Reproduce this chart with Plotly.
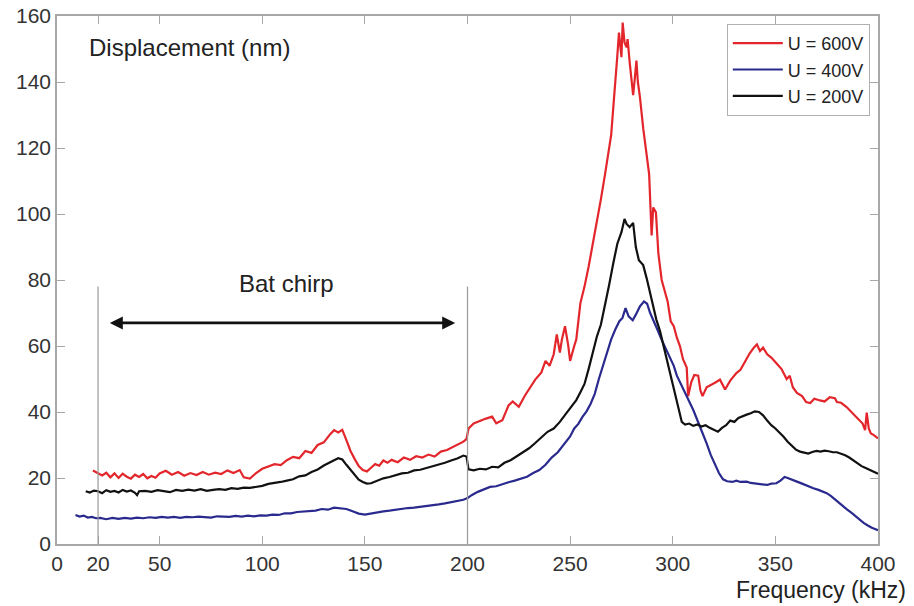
import plotly.graph_objects as go

# ---------------- data ----------------
red_f = [17.5, 20, 22, 24, 26, 28, 30, 32, 34, 36, 38, 40, 42, 44, 46, 48, 50, 53, 56, 59, 62, 65, 68, 71, 74, 77, 80,
         83, 86, 89, 91, 94, 97, 100, 103, 106, 109, 112, 115, 118, 121, 124, 127, 130, 133, 135, 137, 139, 141, 143,
         145, 147, 149, 151, 153, 155, 157, 159, 161, 163, 166, 169, 172, 175, 178, 181, 184, 187, 190, 193, 196, 198,
         199.5, 200.5, 203, 206, 209, 212, 214, 217, 220, 222, 225, 228, 231, 233, 236, 238, 240, 242, 243.5, 245, 246,
         247.5, 249, 250, 252, 253, 255, 257, 259, 261, 263, 265, 267, 268.5, 270, 271, 272, 273, 273.8, 274.5, 275,
         275.6, 276.5, 277.5, 278, 279, 280.7, 281.5, 282.3, 283, 284, 285.6, 287, 288.5, 289.7, 290.5, 291.8, 293,
         294.6, 296, 297.5, 299, 300.5, 302, 303.5, 305, 306.8, 307.5, 309, 310.5, 312.4, 313.5, 314.5, 316.5, 319, 321,
         323, 325.5, 328, 331, 333, 335, 337.5, 339.5, 341, 342.5, 344, 346, 348, 350.5, 353, 355.5, 357, 358.5, 360.5,
         363, 365, 367, 369, 371.7, 374, 376.5, 379, 380, 382, 384.7, 387, 389, 391.2, 392.5, 393.7, 394.5, 395.5,
         396.5, 398, 400]
red_v = [22.3, 21.5, 20.8, 21.6, 20.2, 21.4, 20.0, 21.3, 20.4, 19.8, 21.0, 20.3, 21.2, 19.9, 20.6, 20.1, 21.4, 22.2,
         21.0, 21.8, 20.7, 21.5, 20.9, 21.8, 21.0, 21.6, 21.2, 22.3, 21.5, 22.4, 20.2, 19.8, 21.5, 22.8, 23.4, 24.2,
         23.9, 25.4, 26.4, 26.0, 28.2, 27.6, 30.0, 30.8, 33.2, 34.5, 33.8, 34.6, 31.5, 28.2, 25.8, 23.6, 22.4, 22.0,
         23.1, 24.2, 23.7, 25.3, 24.6, 25.5, 24.8, 26.2, 25.5, 26.6, 26.2, 27.1, 26.5, 28.0, 28.5, 29.4, 30.2, 31.0,
         31.8, 35.0, 36.5, 37.3, 38.0, 38.6, 36.6, 37.5, 42.0, 43.2, 41.6, 45.0, 48.0, 49.8, 52.0, 55.5, 54.0, 57.5,
         63.5, 58.0, 62.0, 66.0, 60.5, 55.5, 60.0, 62.0, 73.0, 78.0, 84.0, 90.5, 97.0, 104.5, 112.0, 118.5, 124.0,
         132.0, 139.0, 148.0, 155.0, 150.0, 147.5, 158.0, 152.0, 150.5, 153.0, 146.0, 136.0, 141.0, 146.5, 140.0,
         135.5, 126.0, 119.0, 112.0, 93.5, 102.0, 100.5, 88.0, 80.0, 77.0, 73.5, 67.5, 66.0, 62.5, 60.0, 56.0, 53.5,
         44.8, 49.0, 51.2, 51.0, 46.5, 44.8, 47.5, 48.2, 49.0, 49.8, 46.8, 49.5, 51.8, 52.8, 55.0, 57.8, 59.5, 60.5,
         58.5, 59.5, 57.5, 56.5, 54.8, 53.0, 50.0, 51.0, 47.5, 45.8, 44.8, 43.0, 42.7, 44.0, 43.5, 43.2, 44.5, 44.2,
         43.0, 42.8, 41.5, 40.0, 39.0, 37.5, 36.5, 34.5, 39.8, 35.0, 33.5, 33.0, 32.0]

blue_f = [9, 11, 13, 15, 17, 19, 21, 24, 27, 30, 33, 36, 39, 42, 45, 48, 51, 54, 57, 60, 63, 66, 69, 72, 75, 78, 81, 84,
          87, 90, 93, 96, 99, 102, 105, 108, 111, 114, 117, 120, 123, 126, 129, 132, 135, 138, 141, 144, 147, 150, 153,
          156, 159, 162, 165, 168, 171, 174, 177, 180, 183, 186, 189, 192, 195, 198, 200, 202, 205, 208, 211, 214, 217,
          220, 223, 226, 229, 232, 235, 238, 241, 244, 247, 250, 252, 254, 256, 258, 260, 262, 264, 266, 268, 270, 272,
          274, 275.5, 277, 278.5, 280.5, 282, 284, 286, 287.5, 289, 290.5, 292.5, 294.5, 296.5, 298.5, 300.5, 302, 304,
          306, 308, 310, 312, 314, 316.5, 318.5, 320.5, 322.5, 324.5, 326.5, 329, 331, 333, 336, 338, 340, 342, 344,
          346, 348, 350.5, 352.5, 354.5, 356, 358, 360.5, 363, 365.5, 368.5, 371, 373, 375, 377, 379, 381, 383, 385,
          387, 389, 391, 393, 395, 397, 400]
blue_v = [8.8, 8.3, 8.6, 8.0, 8.2, 7.8, 7.9, 7.5, 7.9, 7.6, 7.9, 7.7, 8.0, 7.8, 8.1, 7.9, 8.2, 8.0, 8.2, 7.9, 8.2, 8.1,
          8.3, 8.2, 8.0, 8.4, 8.3, 8.2, 8.5, 8.3, 8.6, 8.4, 8.7, 8.6, 8.9, 8.8, 9.3, 9.3, 9.7, 9.8, 10.0, 10.1, 10.6,
          10.4, 11.0, 10.9, 10.6, 9.9, 9.2, 8.9, 9.3, 9.5, 9.9, 10.1, 10.4, 10.7, 10.9, 11.0, 11.2, 11.5, 11.6, 12.0,
          12.3, 12.7, 13.0, 13.4, 13.9, 14.8, 15.8, 16.6, 17.3, 17.5, 18.2, 18.7, 19.2, 19.8, 20.4, 21.5, 22.4, 24.0,
          26.2, 27.8, 30.2, 32.6, 35.0, 36.4, 38.5, 40.2, 42.5, 45.5, 50.0, 54.0, 58.0, 62.0, 65.0, 67.5, 68.5, 71.5,
          69.0, 67.8, 69.5, 72.0, 73.5, 72.8, 70.0, 68.0, 65.0, 62.0, 59.5, 56.5, 54.0, 51.0, 48.5, 45.5, 43.0, 40.6,
          37.5, 34.5, 30.5, 27.0, 24.0, 21.5, 19.6, 19.0, 18.8, 19.2, 18.8, 18.9, 18.5, 18.4, 18.1, 18.0, 17.9, 18.3,
          18.4, 19.2, 20.3, 20.0, 19.4, 18.9, 18.3, 17.6, 16.9, 16.4, 16.0, 15.4, 14.6, 13.5, 12.4, 11.3, 10.4, 9.5,
          8.5, 7.3, 6.4, 5.6, 4.9, 4.2]

black_f = [14, 16, 18, 20, 22, 24, 26, 28, 30, 32, 34, 36, 38, 39, 40, 43, 46, 49, 52, 55, 58, 61, 64, 67, 70, 73, 76,
           79, 82, 85, 88, 91, 94, 97, 100, 103, 106, 109, 112, 115, 118, 121, 124, 127, 130, 133, 135, 137, 139, 141,
           143, 145, 147, 149, 151, 153, 156, 159, 162, 165, 168, 171, 174, 177, 180, 183, 186, 189, 192, 195, 198,
           199.5, 200.5, 203, 206, 209, 212, 215, 218, 221, 224, 227, 230, 233, 236, 239, 242, 245, 248, 251, 253, 255,
           257, 259, 261, 263, 265, 267, 269, 271, 273, 275, 276.5, 277.5, 279, 280.7, 282, 283.5, 285.6, 287.3, 289,
           290.4, 292, 293.8, 295.5, 297, 298.6, 300.5, 302.5, 304.4, 306, 308, 310, 312, 314, 316, 318, 320, 322, 324,
           326, 328, 330, 332, 334, 336, 338, 340, 342, 344, 346, 348, 350, 352, 354, 356, 358, 360, 362, 364, 366, 368,
           370, 372, 374, 376, 378, 380, 382, 384, 386, 388, 390, 392, 394, 396, 398, 400]
black_v = [16.0, 15.6, 16.2, 16.0, 15.4, 16.3, 15.8, 16.1, 15.6, 16.4, 15.9, 16.2, 15.5, 14.8, 16.0, 16.1, 15.8, 16.3,
           16.0, 15.7, 16.4, 16.1, 16.5, 16.2, 16.6, 16.1, 16.4, 16.6, 16.4, 16.9, 16.7, 17.1, 17.0, 17.3, 17.6, 18.2,
           18.4, 18.8, 19.2, 19.6, 20.5, 20.8, 21.8, 22.6, 23.8, 24.9, 25.4, 26.0, 25.6, 24.0, 22.5, 21.0, 19.5, 18.8,
           18.3, 18.4, 19.2, 19.9, 20.3, 20.9, 21.4, 21.6, 22.3, 22.5, 23.0, 23.6, 24.2, 24.6, 25.3, 25.9, 26.8, 26.5,
           22.6, 22.3, 22.8, 22.6, 23.4, 23.2, 24.6, 25.4, 26.6, 27.8, 29.0, 30.6, 32.3, 34.0, 35.0, 37.0, 39.5, 42.0,
           43.6, 46.0, 48.5, 53.0, 58.0, 62.8, 66.5, 72.0, 78.5, 85.0, 91.0, 94.5, 98.5, 97.0, 96.0, 97.3, 90.0, 86.0,
           84.5, 80.5, 76.0, 73.0, 68.0, 64.5, 60.0, 57.0, 52.0, 47.0, 41.5, 37.0, 36.2, 36.5, 35.8, 36.2, 35.6, 36.0,
           35.2, 34.5, 34.0, 35.2, 36.0, 37.4, 37.0, 38.2, 38.8, 39.2, 39.6, 40.2, 40.0, 39.0, 37.4, 36.0, 35.0, 33.8,
           32.5, 31.0, 29.8, 28.6, 28.0, 27.6, 27.4, 27.9, 28.2, 28.0, 28.3, 28.1, 27.8, 27.8, 27.4, 26.9, 26.2, 25.3,
           24.5, 23.6, 23.0, 22.4, 21.8, 21.3]

series_names = ["U = 600V", "U = 400V", "U = 200V"]
x_ticks = [0, 20, 50, 100, 150, 200, 250, 300, 350, 400]
y_ticks = [0, 20, 40, 60, 80, 100, 120, 140, 160]

chirp_start, chirp_end = 20, 200        # bat chirp band (kHz)
chirp_line_top = 78                     # height of the band markers (nm)
arrow_from, arrow_to, arrow_level = 25, 194, 67
label_x, label_y = 112, 79

# ---------------- figure ----------------
FONT = "Liberation Sans, Arial, sans-serif"
fig = go.Figure()
for f, v, name, col in [(red_f, red_v, series_names[0], "#e3262b"),
                        (blue_f, blue_v, series_names[1], "#2a2a8e"),
                        (black_f, black_v, series_names[2], "#111111")]:
    fig.add_trace(go.Scatter(x=f, y=v, mode="lines", name=name,
                             line=dict(color=col, width=2.2)))

for xv in (chirp_start, chirp_end):
    fig.add_shape(type="line", xref="x", yref="y", x0=xv, x1=xv, y0=0, y1=chirp_line_top,
                  line=dict(color="#9a9a9a", width=1.2))

fig.add_annotation(x=arrow_to, y=arrow_level, ax=arrow_from, ay=arrow_level,
                   xref="x", yref="y", axref="x", ayref="y", text="",
                   showarrow=True, arrowhead=2, arrowside="end+start",
                   arrowsize=1.0, arrowwidth=2.6, arrowcolor="#111111")
fig.add_annotation(x=label_x, y=label_y, xref="x", yref="y", text="Bat chirp",
                   showarrow=False, font=dict(family=FONT, size=24, color="#222222"))
fig.add_annotation(x=0.036, y=0.94, xref="paper", yref="paper", text="Displacement (nm)",
                   xanchor="left", yanchor="middle", showarrow=False,
                   font=dict(family=FONT, size=24, color="#222222"))
fig.add_annotation(x=1.036, y=-0.088, xref="paper", yref="paper", text="Frequency (kHz)",
                   xanchor="right", yanchor="middle", showarrow=False,
                   font=dict(family=FONT, size=23, color="#222222"))

axis_common = dict(showgrid=False, zeroline=False, showline=True, linecolor="#a8a8a8", linewidth=1.5,
                   mirror="ticks", ticks="inside", ticklen=8, tickcolor="#a8a8a8", tickwidth=1,
                   tickfont=dict(family=FONT, size=21, color="#333333"))
fig.update_xaxes(range=[0, 400], tickmode="array", tickvals=x_ticks,
                 ticktext=[str(t) for t in x_ticks], **axis_common)
fig.update_yaxes(range=[0, 160], tickmode="array", tickvals=y_ticks,
                 ticktext=[str(t) for t in y_ticks], **axis_common)

fig.update_layout(
    width=914, height=606,
    margin=dict(l=57, r=36, t=16, b=62, autoexpand=False),
    paper_bgcolor="white", plot_bgcolor="white",
    showlegend=True,
    legend=dict(x=0.99, y=0.985, xanchor="right", yanchor="top",
                bgcolor="white", bordercolor="#b0b0b0", borderwidth=1,
                font=dict(family=FONT, size=18, color="#222222"),
                tracegroupgap=0, itemwidth=50, entrywidth=130, entrywidthmode="pixels"),
)

fig.write_html("out.html", config={"displayModeBar": False})

# remove the browser's default page margin so the figure fills the window exactly
with open("out.html", encoding="utf-8") as fh:
    html = fh.read()
html = html.replace("<head>", "<head><style>html,body{margin:0;padding:0;overflow:hidden;}</style>", 1)
with open("out.html", "w", encoding="utf-8") as fh:
    fh.write(html)
